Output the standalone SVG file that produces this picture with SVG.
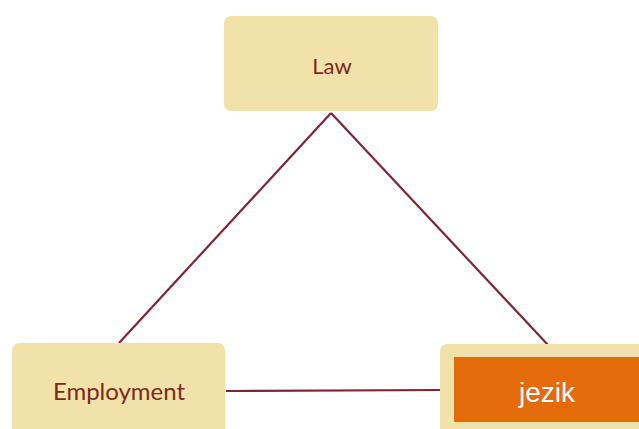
<svg xmlns="http://www.w3.org/2000/svg" width="639" height="429" viewBox="0 0 639 429">
<style>
.box{fill:#f1e2a9}
.lbl{font-family:Lato,"Liberation Sans",sans-serif;fill:#7a2a1c;text-anchor:middle}
.edge{stroke:#7f2535;stroke-width:2.2;fill:none}
</style>
<rect width="639" height="429" fill="#ffffff"/>
<g id="connectors">
<line class="edge" x1="331" y1="113" x2="119" y2="343"/>
<line class="edge" x1="331" y1="113" x2="548" y2="345"/>
<line class="edge" x1="226" y1="391" x2="440" y2="390"/>
</g>
<g id="law">
<rect class="box" x="224" y="16" width="214" height="95" rx="7"/>
<text class="lbl" x="332" y="74" font-size="22">Law</text>
</g>
<g id="employment">
<rect class="box" x="12" y="343" width="213" height="100" rx="7"/>
<text class="lbl" x="119" y="400" font-size="24">Employment</text>
</g>
<g id="jezik">
<rect class="box" x="440" y="344" width="210" height="100" rx="7"/>
<rect x="454" y="357" width="185" height="65" fill="#e36b0a"/>
<text x="547" y="402" font-family="Liberation Sans,Arial,sans-serif" font-size="28" fill="#ffffff" text-anchor="middle">jezik</text>
</g>
</svg>
